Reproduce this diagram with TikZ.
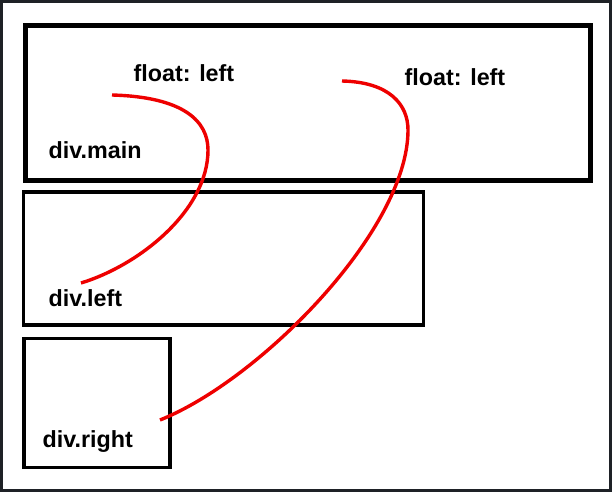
\documentclass[tikz,border=0pt]{standalone}
\usepackage{fontspec}
\setmainfont{Liberation Sans}
\usepackage{tikz}
\usetikzlibrary{positioning}
\definecolor{ink}{HTML}{000000}
\definecolor{frame}{HTML}{1E2126}
\definecolor{floatred}{HTML}{EE0000}
\tikzset{divbox/.style={draw=ink,inner sep=0pt},
  mainbox/.style={divbox,line width=5pt},
  subbox/.style={divbox,line width=3.6pt},
  lab/.style={anchor=base west,inner sep=0pt,font=\fontsize{23.3}{27}\selectfont\bfseries,text=ink},
  floatline/.style={draw=floatred,line width=3.4pt}}
\begin{document}
\begin{tikzpicture}[x=1pt,y=-1pt]
\useasboundingbox (0,0) rectangle (612,492);
\draw[frame,line width=2.5pt] (1.5,1.5) rectangle (610.5,490.5);
\node[mainbox,minimum width=565pt,minimum height=154pt] (main) at (308.25,103) {};
\node[subbox,minimum width=400pt,minimum height=133pt] (left) at (223.5,258.5) {};
\node[subbox,minimum width=146pt,minimum height=129pt] (right) at (97,402.8) {};
\node[lab] (mainlab) at (48.5,158) {div.main};
\node[lab] (float1) at (133.5,82) {float: left};
\node[lab] (float2) at (404.5,86) {float: left};
\node[lab] (leftlab) at (48.5,306) {div.left};
\node[lab] (rightlab) at (42.5,447) {div.right};
\coordinate (s1) at (112,95);
\coordinate (e1) at (81,283);
\coordinate (s2) at (342,81);
\coordinate (e2) at (160,420);
\draw[floatline] (s1) .. controls (185,97) and (208,122) .. (208,150) .. controls (208,210) and (140,265) .. (e1);
\draw[floatline] (s2) .. controls (390,82) and (408,105) .. (408,130) .. controls (408,230) and (260,380) .. (e2);
\end{tikzpicture}
\end{document}
